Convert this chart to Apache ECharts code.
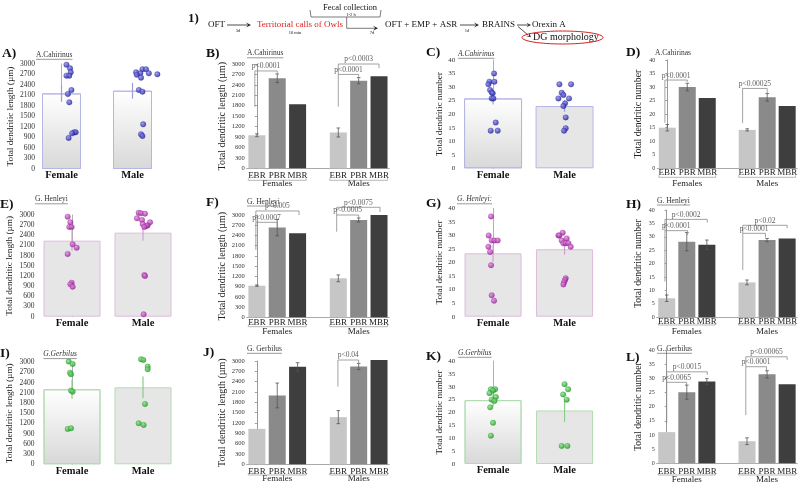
<!DOCTYPE html>
<html><head><meta charset="utf-8">
<script src="https://cdn.jsdelivr.net/npm/echarts@6/dist/echarts.min.js"></script>
<style>html,body{margin:0;padding:0;background:#fff}#c{width:800px;height:485px}</style>
</head><body><div id="c"></div>
<script>
// ================= DATA =================
const sexCats = ['Female', 'Male'];
const groupCats = ['EBR', 'PBR', 'MBR', '', 'EBR', 'PBR', 'MBR'];
const groupLabels = ['', 'Females', '', '', '', 'Males', ''];

// A) A.Cahirinus total dendritic length
const A_means = [2160, 2237];
const A_err = [240, 225];
const A_femVals = [2980, 2876, 2762, 2667, 2667, 2257, 2143, 1905, 1048, 1048, 1019, 886];
const A_femDx = [0.07, 0.12, 0.13, 0.07, 0.11, 0.14, 0.09, 0.11, 0.18, 0.20, 0.15, 0.10];
const A_malVals = [2848, 2848, 2762, 2733, 2733, 2695, 2705, 2610, 2257, 2210, 1276, 990, 943];
const A_malDx = [0.14, 0.19, 0.05, 0.11, 0.23, 0.06, 0.35, 0.12, 0.09, 0.14, 0.15, 0.12, 0.14];

// B) A.Cahirinus length by group
const B_means = [950, 2590, 1845, null, 1030, 2520, 2645];
const B_err = [40, 125, 0, null, 130, 90, 0];
const B_brackets = [
  [-0.1, 1.0, 2800, 1770, 2740, 'p<0.0001'],
  [4.0, 5.0, 2700, 1770, 2635, 'p<0.0001'],
  [4.0, 6.0, 3000, 2700, 2880, 'p<0.0003']
];

// C) A.Cahirinus dendritic number
const C_means = [25.8, 23.0];
const C_err = [2.2, 2.1];
const C_femVals = [35, 32, 32, 31, 28.9, 28, 27.7, 25.8, 25.8, 16.9, 13.9, 13.9];
const C_femDx = [0.014, -0.051, 0.019, -0.065, -0.042, -0.019, -0.005, -0.019, 0.005, 0.037, -0.033, 0.065];
const C_malVals = [31, 31, 27.9, 27.1, 25.8, 25.8, 24, 23, 18.8, 14.8, 13.9];
const C_malDx = [-0.072, 0.091, -0.04, -0.016, -0.086, 0.063, 0.007, -0.016, 0.016, 0.016, -0.007];

// D) A.Cahirinas number by group
const D_means = [15, 30, 26, null, 14.2, 26.2, 23];
const D_err = [1.2, 1.4, 0, null, 0.4, 1.4, 0];
const D_brackets = [
  [-0.12, 1.0, 32.6, 16.8, 31.9, 'p<0.0001'],
  [3.77, 5.0, 29.5, 16.7, 27.8, 'p<0.00025']
];

// E) G. Henleyi length
const E_means = [2243, 2479];
const E_err = [300, 240];
const E_femVals = [2951, 2784, 2646, 2646, 2134, 2036, 1849, 1003, 954, 885];
const E_femDx = [-0.061, -0.023, -0.038, -0.005, 0.009, 0.066, -0.061, -0.005, -0.023, 0.009];
const E_malVals = [3069, 3049, 3040, 2902, 2852, 2784, 2734, 2700, 2675, 2646, 1230, 1200, 69];
const E_malDx = [-0.061, -0.028, 0.028, -0.085, -0.014, 0.099, -0.005, 0.066, 0.052, 0.019, 0.019, 0.028, 0.009];

// F) G. Henleyi length by group
const F_means = [928, 2630, 2462, null, 1143, 2853, 3000];
const F_err = [20, 240, 0, null, 100, 60, 0];
const F_brackets = [
  [-0.05, 2.07, 3118, 2786, 3000, 'p<0.005'],
  [-0.05, 1.0, 2786, 1974, 2657, 'p<0.0007'],
  [3.92, 6.05, 3226, 3000, 3088, 'p<0.0075'],
  [3.92, 5.0, 3000, 2510, 2900, 'p<0.0005']
];

// G) G. Henleyi number
const G_means = [23.4, 24.9];
const G_err = [3.1, 2.0];
const G_femVals = [37, 30, 28.1, 28.1, 28.1, 25.8, 23.9, 19, 7.9, 5.9];
const G_femDx = [-0.028, -0.061, -0.019, 0.019, 0.065, -0.065, -0.042, -0.028, -0.019, 0.014];
const G_malVals = [30, 31, 30, 28.1, 28.9, 27.1, 27.1, 27.1, 25.8, 14.2, 13.5, 12.7, 11.9];
const G_malDx = [-0.086, -0.026, -0.072, -0.04, 0.03, -0.016, 0.016, 0.054, 0.086, 0.016, 0.007, -0.007, -0.016];

// H) G. Henleyi number by group
const H_means = [7.1, 28.2, 27.0, null, 13.0, 28.8, 29.4];
const H_err = [1.2, 3.4, 1.8, null, 0.9, 0.6, 0];
const H_brackets = [
  [-0.09, 2.02, 36.5, 32.3, 35.3, 'p<0.0002'],
  [-0.09, 1.04, 32.3, 13.3, 30.7, 'p<0.0001'],
  [3.79, 6.0, 34.3, 31.3, 33.2, 'p<0.02'],
  [3.79, 4.92, 31.3, 17.6, 29.8, 'p<0.0001']
];

// I) G.Gerbilus length
const I_means = [2206, 2265];
const I_err = [280, 320];
const I_femVals = [3020, 2951, 2696, 2647, 2167, 2137, 1039, 1059];
const I_femDx = [-0.047, 0.009, -0.028, -0.014, -0.014, 0.009, -0.061, -0.014];
const I_malVals = [3088, 3069, 2873, 2794, 1775, 1206, 1157];
const I_malDx = [-0.028, 0.005, 0.066, 0.066, 0.028, -0.061, 0.009];

// J) G. Gerbilus length by group
const J_means = [1030, 2000, 2830, null, 1370, 2840, 3030];
const J_err = [0, 360, 120, null, 190, 90, 0];
const J_brackets = [
  [3.98, 5.0, 3029, 2254, 2933, 'p<0.04']
];

// K) G.Gerbilus number
const K_means = [24.8, 20.8];
const K_err = [2.5, 4.5];
const K_femVals = [29, 29, 28.5, 27.5, 26, 25, 24.5, 22, 16, 11];
const K_femDx = [-0.03, 0.03, 0.0, -0.05, 0.04, -0.02, 0.02, -0.04, 0.0, -0.03];
const K_malVals = [31, 29, 27, 25, 7, 7];
const K_malDx = [0.0, 0.05, -0.02, 0.03, -0.04, 0.04];

// L) G. Gerbilus number by group
const L_means = [11, 25.1, 28.9, null, 7.8, 31.4, 27.9];
const L_err = [0, 2.5, 1.0, null, 1.2, 1.3, 0];
const L_brackets = [
  [0.0, 2.02, 32.3, 28.6, 31.2, 'p<0.0015'],
  [0.0, 0.99, 28.6, 14.2, 27.4, 'p<0.0065'],
  [3.94, 6.0, 37.6, 34.1, 36.5, 'p<0.00065'],
  [3.94, 4.97, 34.1, 17.0, 32.3, 'p<0.0001']
];

const lenName = 'Total dendritic length (µm)';
const numName = 'Total dendritic number';

// ================= STYLE / LAYOUT =================
const SERIF = '"Liberation Serif", "Times New Roman", serif';
const themes = {
  blue:   {border: '#b6b6e6', err: '#9c9cd8', pt: ['#8a8af5', '#15158c']},
  purple: {border: '#dcbcdc', err: '#d49cd4', pt: ['#e688e6', '#8c188c']},
  green:  {border: '#b2dcb2', err: '#8ccc8c', pt: ['#86e486', '#14901a']}
};
const groupColors = ['#c6c6c6', '#8a8a8a', '#3e3e3e', '#fff'];

const panels = [
  {letter:'A)', lx:2, ly:54, title:'A.Cahirinus', tx:36, ty:55, ital:false, ul:true,
   kind:'single', L:26, T:64, W:142, H:105, yOff:-11, max:3000, iv:300, tf:7.5, name:lenName, nf:9.2, ng:22, bw:39, th:'blue',
   m:A_means, e:A_err, f:[A_femVals, A_femDx], ml:[A_malVals, A_malDx], grad:[true, true]},
  {letter:'B)', lx:206, ly:54, title:'A.Cahirinus', tx:247, ty:53.5, ital:false, ul:true,
   kind:'group', L:246.7, T:64, W:142.5, H:104.3, max:3000, iv:300, tf:6.5, name:lenName, nf:10, ng:18.5,
   m:B_means, e:B_err, br:B_brackets, lm:3, gm:11, uo:12},
  {letter:'C)', lx:426, ly:53, title:'A.Cahirinus', tx:458, ty:54, ital:true, ul:true,
   kind:'single', L:457.3, T:60, W:143, H:108.3, max:40, iv:5, tf:7, name:numName, nf:9.2, ng:12.5, bw:58, th:'blue',
   m:C_means, e:C_err, f:[C_femVals, C_femDx], ml:[C_malVals, C_malDx], grad:[true, false]},
  {letter:'D)', lx:626, ly:53, title:'A.Cahirinas', tx:655, ty:52.7, ital:false, ul:false,
   kind:'group', L:657.3, T:60, W:142.5, H:108.3, max:40, iv:5, tf:6, name:numName, nf:9.7, ng:13.5,
   m:D_means, e:D_err, br:D_brackets, lm:0, gm:11, uo:9},
  {letter:'E)', lx:0, ly:205, title:'G. Henleyi', tx:35, ty:199.5, ital:false, ul:true,
   kind:'single', L:36.5, T:215, W:142, H:101.7, max:3000, iv:300, tf:7.5, name:lenName, nf:9.2, ng:22.5, bw:57, th:'purple',
   m:E_means, e:E_err, f:[E_femVals, E_femDx], ml:[E_malVals, E_malDx], grad:[false, false]},
  {letter:'F)', lx:206, ly:203, title:'G. Henleyi', tx:247, ty:201.7, ital:false, ul:true,
   kind:'group', L:246.7, T:215, W:142.5, H:102.3, max:3000, iv:300, tf:6.5, name:lenName, nf:10, ng:18.5,
   m:F_means, e:F_err, br:F_brackets, lm:1, gm:9.5, uo:9.4},
  {letter:'G)', lx:426, ly:204, title:'G. Henleyi:', tx:457, ty:199.5, ital:true, ul:true,
   kind:'single', L:457.3, T:208.3, W:143, H:108.4, max:40, iv:5, tf:7, name:numName, nf:9.2, ng:12.5, bw:57, th:'purple',
   m:G_means, e:G_err, f:[G_femVals, G_femDx], ml:[G_malVals, G_malDx], grad:[false, false]},
  {letter:'H)', lx:626, ly:205, title:'G. Henleyi', tx:657, ty:200.7, ital:false, ul:true,
   kind:'group', L:656.7, T:210, W:142.5, H:107.3, max:40, iv:5, tf:6, name:numName, nf:9.7, ng:13,
   m:H_means, e:H_err, br:H_brackets, lm:0, gm:9.5, uo:7.7},
  {letter:'I)', lx:0, ly:354, title:'G.Gerbilus', tx:43.3, ty:354.3, ital:true, ul:true,
   kind:'single', L:36.5, T:362.3, W:142, H:102, max:3000, iv:300, tf:7.5, name:lenName, nf:9.2, ng:22.5, bw:57, th:'green',
   m:I_means, e:I_err, f:[I_femVals, I_femDx], ml:[I_malVals, I_malDx], grad:[true, false]},
  {letter:'J)', lx:203, ly:353, title:'G. Gerbilus', tx:247, ty:349, ital:false, ul:true,
   kind:'group', L:246.7, T:361, W:142.5, H:103.3, max:3000, iv:300, tf:6.5, name:lenName, nf:10, ng:18,
   m:J_means, e:J_err, br:J_brackets, lm:2.4, gm:9.7, uo:10.7},
  {letter:'K)', lx:426, ly:357, title:'G.Gerbilus', tx:458, ty:353, ital:true, ul:true,
   kind:'single', L:457.3, T:361, W:143, H:103, max:40, iv:5, tf:7, name:numName, nf:9.2, ng:12.5, bw:57, th:'green',
   m:K_means, e:K_err, f:[K_femVals, K_femDx], ml:[K_malVals, K_malDx], grad:[true, false]},
  {letter:'L)', lx:626, ly:358, title:'G. Gerbilus', tx:657, ty:349, ital:false, ul:true,
   kind:'group', L:656.7, T:350, W:142.5, H:113.3, max:40, iv:5, tf:6, name:numName, nf:9.7, ng:13,
   m:L_means, e:L_err, br:L_brackets, lm:3.4, gm:11.7, uo:11.7}
];

// ================= BUILD =================
const grids = [], xAxes = [], yAxes = [], series = [];

function errSeries(xi, yi, data, color, cap, width) {
  return {
    type: 'custom', xAxisIndex: xi, yAxisIndex: yi, data: data, z: 5, clip: false, silent: true,
    encode: {x: 0, y: [1, 2]},
    renderItem: function (params, api) {
      const x = api.value(0), lo = api.value(1), hi = api.value(2);
      const a = api.coord([x, lo]), b = api.coord([x, hi]);
      const st = {stroke: color, lineWidth: width, fill: null};
      const ch = [{type: 'line', shape: {x1: a[0], y1: a[1], x2: b[0], y2: b[1]}, style: st}];
      if (cap > 0) {
        ch.push({type: 'line', shape: {x1: a[0] - cap, y1: a[1], x2: a[0] + cap, y2: a[1]}, style: st});
        ch.push({type: 'line', shape: {x1: b[0] - cap, y1: b[1], x2: b[0] + cap, y2: b[1]}, style: st});
      }
      return {type: 'group', children: ch};
    }
  };
}

panels.forEach(function (p, i) {
  grids.push({left: p.L, top: p.T, width: p.W, height: p.H});
  const single = p.kind === 'single';
  const n = single ? 2 : 7;
  const catIdx = xAxes.length;
  xAxes.push({
    type: 'category', gridIndex: i, position: 'bottom', data: single ? sexCats : groupCats,
    axisLine: {show: !single, lineStyle: {color: '#aaa', width: 1}},
    axisTick: {show: false},
    axisLabel: single
      ? {interval: 0, margin: 1, fontFamily: SERIF, fontSize: 10.5, fontWeight: 'bold', color: '#111'}
      : {interval: 0, margin: p.lm, fontFamily: SERIF, fontSize: 9, color: '#222'}
  });
  const valIdx = xAxes.length;
  p.valIdx = valIdx;
  xAxes.push({type: 'value', gridIndex: i, position: 'top', min: -0.5, max: n - 0.5, show: false});
  if (!single) {
    xAxes.push({
      type: 'category', gridIndex: i, position: 'bottom', data: groupLabels,
      axisLine: {show: false}, axisTick: {show: false},
      axisLabel: {interval: 0, margin: p.gm, fontFamily: SERIF, fontSize: 9, color: '#222'}
    });
  }
  yAxes.push({
    type: 'value', gridIndex: i, min: 0, max: p.max, interval: p.iv, offset: p.yOff || 0,
    name: p.name, nameLocation: 'middle', nameGap: p.ng, nameRotate: 90,
    nameTextStyle: {fontFamily: SERIF, fontSize: p.nf, color: '#222'},
    axisLine: {show: true, lineStyle: {color: single ? '#b0b0b0' : '#999', width: 1}},
    axisTick: {show: !single, length: 2, lineStyle: {color: '#999'}},
    splitLine: {show: false},
    axisLabel: {fontFamily: SERIF, fontSize: p.tf, color: '#333', margin: 2, formatter: function (v) { return String(v); }}
  });

  if (single) {
    const th = themes[p.th];
    series.push({
      type: 'bar', xAxisIndex: catIdx, yAxisIndex: i, barWidth: p.bw, z: 2, silent: true,
      data: p.m.map(function (v, k) {
        const fill = p.grad[k]
          ? {type: 'linear', x: 0, y: 0, x2: 0, y2: 1, colorStops: [{offset: 0, color: '#ffffff'}, {offset: 1, color: '#d8d8d8'}]}
          : '#e6e6e6';
        return {value: v, itemStyle: {color: fill, borderColor: th.border, borderWidth: 1}};
      })
    });
    series.push(errSeries(valIdx, i, p.m.map(function (v, k) { return [k, v - p.e[k], v + p.e[k]]; }), th.err, 0, 1.2));
    const ptColor = {type: 'radial', x: 0.38, y: 0.35, r: 0.7, colorStops: [{offset: 0, color: th.pt[0]}, {offset: 1, color: th.pt[1]}]};
    const pts = [];
    p.f[0].forEach(function (v, k) { pts.push([0 + p.f[1][k], v]); });
    p.ml[0].forEach(function (v, k) { pts.push([1 + p.ml[1][k], v]); });
    series.push({
      type: 'scatter', xAxisIndex: valIdx, yAxisIndex: i, clip: false, symbolSize: 5.5, z: 6, silent: true,
      itemStyle: {color: ptColor, borderColor: th.pt[1], borderWidth: 0.3}, data: pts
    });
  } else {
    series.push({
      type: 'bar', xAxisIndex: catIdx, yAxisIndex: i, barWidth: 17, z: 2, clip: false, silent: true,
      data: p.m.map(function (v, k) { return v == null ? '-' : {value: v, itemStyle: {color: groupColors[k % 4]}}; })
    });
    const ed = [];
    p.m.forEach(function (v, k) { if (v != null && p.e[k] > 0) ed.push([k, v - p.e[k], v + p.e[k]]); });
    series.push(errSeries(valIdx, i, ed, '#555', 1.8, 0.8));
    p.br.forEach(function (b) {
      series.push({
        type: 'line', xAxisIndex: valIdx, yAxisIndex: i, clip: false, symbol: 'none', silent: true, z: 7,
        lineStyle: {color: '#8a8a8a', width: 0.8},
        data: [[b[0], b[3]], [b[0], b[2]], [b[1], b[2]], [b[1], b[4]]]
      });
    });
    series.push({
      type: 'scatter', xAxisIndex: valIdx, yAxisIndex: i, clip: false, symbolSize: 1, silent: true, z: 8,
      itemStyle: {color: 'rgba(0,0,0,0)'},
      label: {show: true, position: 'top', distance: 0, formatter: '{b}', fontFamily: SERIF, fontSize: 7.5, color: '#333'},
      data: p.br.map(function (b) { return {name: b[5], value: [(b[0] + b[1]) / 2, b[2]]}; })
    });
  }
});

const chart = echarts.init(document.getElementById('c'));
chart.setOption({
  animation: false,
  backgroundColor: '#ffffff',
  grid: grids, xAxis: xAxes, yAxis: yAxes, series: series
});

// ================= GRAPHIC (labels, titles, flow diagram) =================
const cv = document.createElement('canvas').getContext('2d');
function fontStr(size, bold, ital) { return (ital ? 'italic ' : '') + (bold ? 'bold ' : '') + size + 'px ' + SERIF; }
function txt(t, x, y, size, o) {
  o = o || {};
  const al = o.align || 'left';
  return {type: 'text', x: x, y: y, silent: true, z: 100,
    style: {text: t, fill: o.color || '#111', font: fontStr(size, o.bold, o.ital),
      align: al, verticalAlign: 'middle', textAlign: al, textVerticalAlign: 'middle'}};
}
function pl(pts, color, w) {
  return {type: 'polyline', silent: true, z: 100, shape: {points: pts}, style: {stroke: color || '#222', lineWidth: w || 0.8, fill: null}};
}
function head(x, y, dx, dy, s) {
  const len = Math.hypot(dx, dy); dx /= len; dy /= len;
  const px = -dy, py = dx;
  return {type: 'polygon', silent: true, z: 100, shape: {points: [
    [x, y], [x - dx * s + px * s * 0.5, y - dy * s + py * s * 0.5],
    [x - dx * s * 0.55, y - dy * s * 0.55], [x - dx * s - px * s * 0.5, y - dy * s - py * s * 0.5]]},
    style: {fill: '#222'}};
}
const G = [];
// flow diagram
G.push(txt('1)', 188, 19, 13, {bold: true}));
G.push(txt('OFT', 208, 25, 9));
G.push(pl([[227, 25], [248, 25]])); G.push(head(251, 25, 1, 0, 5));
G.push(txt('3d', 238, 30.5, 4.5, {align: 'center'}));
G.push(txt('Territorial calls of Owls', 257, 25, 9, {color: '#e0201e'}));
G.push(txt('10 min', 295, 33, 4.5, {align: 'center'}));
G.push(pl([[310, 10], [311, 17], [380, 17], [381, 10]], '#444', 0.7));
G.push(txt('Fecal collection', 323, 8, 8.5));
G.push(txt('1-2 h', 351, 14.5, 4.5, {align: 'center'}));
G.push(pl([[346.7, 17], [346.7, 28.3], [375, 28.3]], '#444', 0.7)); G.push(head(378, 28.3, 1, 0, 5));
G.push(txt('7d', 372, 32.5, 4.5, {align: 'center'}));
G.push(txt('OFT + EMP + ASR', 385, 25, 9));
G.push(pl([[460, 25], [476, 25]])); G.push(head(479, 25, 1, 0, 5));
G.push(txt('1d', 467, 30.5, 4.5, {align: 'center'}));
G.push(txt('BRAINS', 482, 25, 9));
G.push(pl([[517, 25], [528, 25]])); G.push(head(531, 25, 1, 0, 4.5));
G.push(txt('Orexin A', 532, 25, 9));
G.push(pl([[518, 26.5], [528, 35]])); G.push(head(531, 37.2, 1.1, 0.9, 4.5));
G.push(txt('DG morphology', 533, 37.5, 10));
G.push({type: 'ellipse', silent: true, z: 100, shape: {cx: 562.5, cy: 37.5, rx: 40.5, ry: 6.5}, style: {stroke: '#d42020', lineWidth: 1, fill: null}});

panels.forEach(function (p, i) {
  G.push(txt(p.letter, p.lx, p.ly, 13.5, {bold: true}));
  G.push(txt(p.title, p.tx, p.ty, 7.5, {ital: p.ital, color: '#333'}));
  if (p.ul) {
    cv.font = fontStr(7.5, false, p.ital);
    const w = cv.measureText(p.title).width;
    G.push(pl([[p.tx, p.ty + 4.3], [p.tx + w, p.ty + 4.3]], '#555', 0.6));
  }
  if (p.kind === 'group') {
    [[-0.42, 2.42], [3.58, 6.42]].forEach(function (r) {
      const a = chart.convertToPixel({xAxisIndex: p.valIdx, yAxisIndex: i}, [r[0], 0]);
      const b = chart.convertToPixel({xAxisIndex: p.valIdx, yAxisIndex: i}, [r[1], 0]);
      const y = a[1] + p.uo;
      G.push(pl([[a[0], y - 2], [a[0], y], [b[0], y], [b[0], y - 2]], '#999', 0.7));
    });
  }
});

chart.setOption({graphic: {elements: G}});
</script>
</body></html>
